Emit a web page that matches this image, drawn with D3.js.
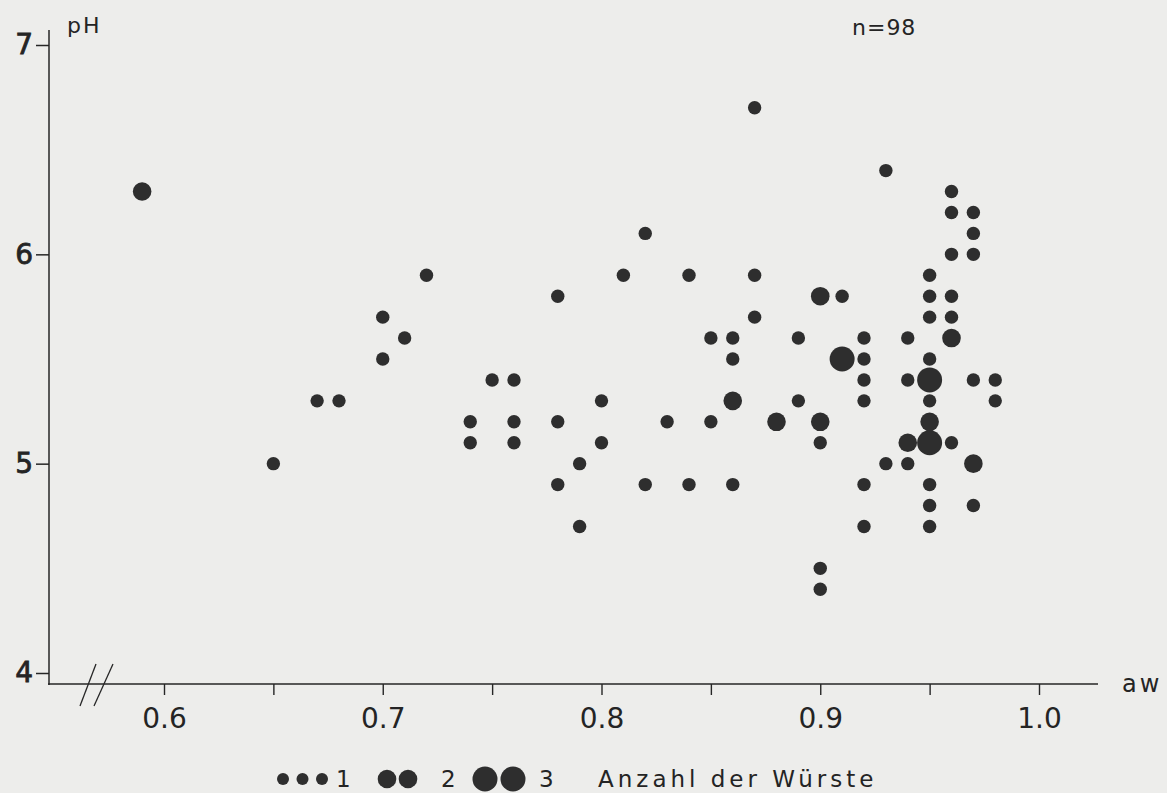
<!DOCTYPE html>
<html>
<head>
<meta charset="utf-8">
<script src="https://cdn.jsdelivr.net/npm/d3@7"></script>
<style>
  body { margin: 0; background: #ededeb; }
  text { font-family: "DejaVu Sans", "Liberation Sans", Arial, sans-serif; fill: #242424; }
</style>
</head>
<body>
<div id="main"></div>
<script>
// water activity (aw), pH and number of sausages behind each dot
const aw = [
  0.59, 0.65, 0.67, 0.68, 0.70, 0.70, 0.71, 0.72,
  0.74, 0.74, 0.75, 0.76, 0.76, 0.76, 0.78, 0.78, 0.78, 0.79, 0.79,
  0.80, 0.80, 0.81, 0.82, 0.82, 0.83, 0.84, 0.84, 0.85, 0.85,
  0.86, 0.86, 0.86, 0.86, 0.87, 0.87, 0.87, 0.88, 0.89, 0.89,
  0.90, 0.90, 0.90, 0.90, 0.90, 0.91, 0.91,
  0.92, 0.92, 0.92, 0.92, 0.92, 0.92, 0.93, 0.93,
  0.94, 0.94, 0.94, 0.94,
  0.95, 0.95, 0.95, 0.95, 0.95, 0.95, 0.95, 0.95, 0.95, 0.95, 0.95,
  0.96, 0.96, 0.96, 0.96, 0.96, 0.96, 0.96,
  0.97, 0.97, 0.97, 0.97, 0.97, 0.97, 0.98, 0.98
];
const ph = [
  6.3, 5.0, 5.3, 5.3, 5.5, 5.7, 5.6, 5.9,
  5.2, 5.1, 5.4, 5.4, 5.2, 5.1, 5.2, 4.9, 5.8, 5.0, 4.7,
  5.3, 5.1, 5.9, 4.9, 6.1, 5.2, 5.9, 4.9, 5.2, 5.6,
  4.9, 5.3, 5.6, 5.5, 6.7, 5.9, 5.7, 5.2, 5.6, 5.3,
  5.8, 5.2, 5.1, 4.5, 4.4, 5.8, 5.5,
  5.6, 5.5, 5.4, 5.3, 4.9, 4.7, 6.4, 5.0,
  5.1, 5.0, 5.6, 5.4,
  5.9, 5.8, 5.7, 5.5, 5.4, 5.3, 5.2, 5.1, 4.9, 4.8, 4.7,
  6.3, 6.2, 6.0, 5.8, 5.7, 5.6, 5.1,
  6.2, 6.1, 6.0, 5.4, 5.0, 4.8, 5.4, 5.3
];
const count = [
  2, 1, 1, 1, 1, 1, 1, 1,
  1, 1, 1, 1, 1, 1, 1, 1, 1, 1, 1,
  1, 1, 1, 1, 1, 1, 1, 1, 1, 1,
  1, 2, 1, 1, 1, 1, 1, 2, 1, 1,
  2, 2, 1, 1, 1, 1, 3,
  1, 1, 1, 1, 1, 1, 1, 1,
  2, 1, 1, 1,
  1, 1, 1, 1, 3, 1, 2, 3, 1, 1, 1,
  1, 1, 1, 1, 1, 2, 1,
  1, 1, 1, 1, 2, 1, 1, 1
];

const yTicks = [4, 5, 6, 7];
const xTicks = [0.6, 0.65, 0.7, 0.75, 0.8, 0.85, 0.9, 0.95, 1.0];
const xLabels = ['0.6', '0.7', '0.8', '0.9', '1.0'];
const legendCounts = [1, 2, 3];
const legendDots = [3, 2, 2];

const points = aw.map((d, i) => ({ aw: d, ph: ph[i], n: count[i] }));

const svg = d3
  .select('div#main')
  .append('svg')
  .attr('width', 1167)
  .attr('height', 793);

const x = d3.scaleLinear().domain([0.6, 1.0]).range([164, 1039]);
const y = d3.scaleLinear().domain([4, 7]).range([673, 45]);
const r = d3.scaleOrdinal().domain([1, 2, 3]).range([6.7, 9.3, 12.5]);

const ink = '#262626';

// y axis
const yAxis = svg
  .append('g')
  .attr('transform', 'translate(49,0)')
  .call(d3.axisLeft(y).tickValues(yTicks).tickSize(13).tickPadding(3).tickFormat(d3.format('d')));
yAxis.select('.domain').remove();
yAxis.selectAll('line').attr('stroke', ink).attr('stroke-width', 1.5);
yAxis.selectAll('text')
  .style('font-size', '28px')
  .attr('fill', ink)
  .attr('stroke', ink)
  .attr('stroke-width', 0.8);

svg.append('line')
  .attr('x1', 49).attr('x2', 49)
  .attr('y1', 30).attr('y2', 685)
  .attr('stroke', ink).attr('stroke-width', 1.5);

// x axis, labels only on the tenths
const xAxis = svg
  .append('g')
  .attr('transform', 'translate(0,684)')
  .call(
    d3.axisBottom(x)
      .tickValues(xTicks)
      .tickSize(11)
      .tickPadding(13)
      .tickFormat(d => {
        const s = d3.format('.1f')(d);
        return xLabels.includes(s) && Math.abs(d * 10 - Math.round(d * 10)) < 1e-6 ? s : '';
      })
  );
xAxis.select('.domain').remove();
xAxis.selectAll('line').attr('stroke', ink).attr('stroke-width', 1.4);
xAxis.selectAll('text').style('font-size', '28px').attr('fill', ink);

svg.append('line')
  .attr('x1', 48).attr('x2', 1098)
  .attr('y1', 684).attr('y2', 684)
  .attr('stroke', ink).attr('stroke-width', 1.6);

// axis break marks
[[80, 93], [94, 110]].forEach(([a, b]) => {
  svg.append('line')
    .attr('x1', a).attr('y1', 706)
    .attr('x2', b + 3).attr('y2', 664)
    .attr('stroke', ink).attr('stroke-width', 1.3);
});

// labels
svg.append('text').attr('x', 67).attr('y', 33)
  .style('font-size', '22px').style('letter-spacing', '2px').text('pH');
svg.append('text').attr('x', 1122).attr('y', 692)
  .style('font-size', '24px').style('letter-spacing', '3px').text('aw');
svg.append('text').attr('x', 852).attr('y', 35)
  .style('font-size', '22px').style('letter-spacing', '1px').text('n=98');

// dots
svg.append('g')
  .selectAll('circle')
  .data(points)
  .join('circle')
  .attr('cx', d => x(d.aw))
  .attr('cy', d => y(d.ph))
  .attr('r', d => r(d.n))
  .attr('fill', '#2e2e2e');

// legend
const legendY = 779;
const legendStart = [283, 387, 485];
const legendStep = [19.5, 21, 28];
const legendText = [336, 441, 539];
const legend = svg.append('g');
legendCounts.forEach((c, i) => {
  legend.selectAll(null)
    .data(d3.range(legendDots[i]))
    .join('circle')
    .attr('cx', k => legendStart[i] + k * legendStep[i])
    .attr('cy', legendY)
    .attr('r', i === 0 ? 6 : r(c))
    .attr('fill', '#2e2e2e');
  legend.append('text')
    .attr('x', legendText[i])
    .attr('y', 787)
    .style('font-size', '23px')
    .text(c);
});
legend.append('text')
  .attr('x', 598)
  .attr('y', 787)
  .style('font-size', '23px')
  .style('letter-spacing', '4px')
  .text('Anzahl der Würste');
</script>
</body>
</html>
